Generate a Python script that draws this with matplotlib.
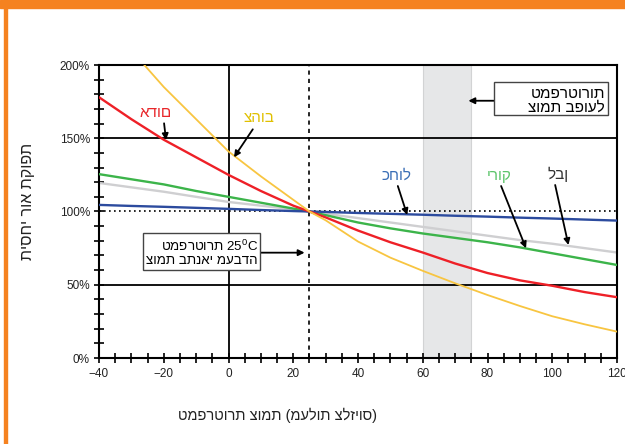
import numpy as np
import matplotlib
matplotlib.use("Agg")
import matplotlib.pyplot as plt
from matplotlib.patches import Rectangle

plt.rcParams['font.family'] = ['Liberation Sans', 'DejaVu Sans']

# Junction temperature (°C) and relative light output (%) per LED colour
temps = [-40, -30, -20, -10, 0, 10, 20, 25, 30, 40, 50, 60, 70, 80, 90, 100, 110, 120]
red = [178, 163, 149, 137, 125, 114, 104, 100, 96, 87, 79, 72, 64.5, 58, 53, 49.3, 45, 41.5]
yellow_t = [-30, -20, -10, 0, 10, 20, 25, 30, 40, 50, 60, 70, 80, 90, 100, 110, 120]
yellow = [210, 185, 163, 141, 124, 108, 100, 94, 79.5, 68.5, 59.5, 51, 43, 35.5, 28.5, 23, 18]
green = [125.5, 122, 118.5, 114, 110, 106, 102, 100, 97.5, 92.5, 88.5, 85, 82, 79, 75.5, 71.5, 67.5, 63.5]
white = [119.5, 116.5, 113.5, 110, 106.5, 104, 101.5, 100, 98.5, 95.5, 92.5, 89.5, 86.5, 83.5, 80.5, 78, 75, 72]
blue = [104.5, 103.8, 103.2, 102.5, 101.8, 101, 100.3, 100, 99.7, 99, 98.4, 97.8, 97.1, 96.5, 95.8, 95.2, 94.5, 93.8]

x_ticks = [-40, -20, 0, 20, 40, 60, 80, 100, 120]
y_ticks = [0, 50, 100, 150, 200]
y_tick_labels = ['0%', '50%', '100%', '150%', '200%']
band = (60, 75)
lab_temp = 25

fig = plt.figure(figsize=(6.25, 4.44), dpi=100)
ax = fig.add_axes([99 / 625, 1 - 358 / 444, 518 / 625, 293 / 444])

# orange page trim
fig.patches.append(Rectangle((0, 1 - 8 / 444), 1, 8 / 444, transform=fig.transFigure,
                             color='#f58220', zorder=0))
fig.patches.append(Rectangle((3.5 / 625, 0), 3 / 625, 1, transform=fig.transFigure,
                             color='#f58220', zorder=0))

ax.axvspan(band[0], band[1], facecolor='#e6e7e8', edgecolor='#d2d3d4', lw=0.8, zorder=0)

ax.axhline(50, color='black', lw=1.3, zorder=1)
ax.axhline(150, color='black', lw=1.3, zorder=1)
ax.axvline(0, color='black', lw=1.3, zorder=1)
ax.axvline(lab_temp, color='black', lw=1.2, ls=(0, (2.5, 2.5)), zorder=1)
ax.axhline(100, color='black', lw=1.2, ls=(0, (1, 2)), zorder=1)

ax.plot(temps, white, color='#cfcfd1', lw=1.7, zorder=2)
ax.plot(temps, green, color='#3cb44a', lw=1.7, zorder=3)
ax.plot(temps, blue, color='#2c4b9e', lw=1.7, zorder=3)
ax.plot(temps, red, color='#ee2027', lw=1.7, zorder=4)
ax.plot(yellow_t, yellow, color='#f8c541', lw=1.3, zorder=4)

ax.set_xlim(-40, 120)
ax.set_ylim(0, 200)
ax.set_xticks(x_ticks)
ax.set_xticks(np.arange(-40, 121, 5), minor=True)
ax.set_yticks(y_ticks)
ax.set_yticklabels(y_tick_labels)
ax.set_yticks(np.arange(0, 201, 10), minor=True)
ax.tick_params(which='both', direction='inout', length=7, width=1.2, color='black',
               labelsize=8.5, labelcolor='#222222')
ax.tick_params(axis='x', pad=4)
ax.tick_params(axis='y', pad=3)
for sp in ax.spines.values():
    sp.set_linewidth(1.5)

arrow = dict(arrowstyle='-|>', color='black', lw=1.3, mutation_scale=9, shrinkA=0, shrinkB=0)

labels = [
    ('אדום', '#e8262a', (-22.4, 167.5), (-19.9, 160.2), (-19.3, 148.8)),
    ('צהוב', '#e0c000', (9.6, 163.5), (7.5, 156.1), (1.7, 137.0)),
    ('כחול', '#3b6fb6', (52.0, 124.2), (52.3, 117.4), (55.2, 97.6)),
    ('ירוק', '#5cc46a', (83.6, 124.2), (84.2, 117.4), (91.9, 74.9)),
    ('לבן', '#333333', (101.9, 125.6), (100.9, 118.1), (105.0, 77.1)),
]
for name, col, pos, start, tip in labels:
    ax.text(*pos, name, color=col, fontsize=11, ha='center', va='center', zorder=6)
    ax.annotate('', xy=tip, xytext=start, arrowprops=arrow, zorder=6)

# callout: actual junction temperatures
ax.add_patch(Rectangle((82.0, 165.7), 35.3, 22.7, facecolor='white', edgecolor='#444444',
                       lw=1.0, zorder=7))
ax.text(116.3, 175.6, 'טמפרטורות\nצומת בפועל', fontsize=11,
        ha='right', va='center', multialignment='right', linespacing=1.0, zorder=8)
ax.annotate('', xy=(74.1, 175.6), xytext=(82.0, 175.6), arrowprops=arrow, zorder=6)

# callout: laboratory junction temperature
ax.add_patch(Rectangle((-26.4, 60.3), 36.2, 25.0, facecolor='white', edgecolor='#444444',
                       lw=1.0, zorder=7))
ax.text(9.1, 71.8, 'טמפרטורת 25$^\\mathregular{0}$C\nצומת בתנאי מעבדה',
        fontsize=9.6, ha='right', va='center', multialignment='right', linespacing=1.05,
        zorder=8)
ax.annotate('', xy=(23.5, 71.9), xytext=(9.8, 71.9), arrowprops=arrow, zorder=6)

fig.text(277 / 625, 1 - 415 / 444, 'טמפרטורת צומת (מעלות צלזיוס)', fontsize=10.5,
         ha='center', va='center', color='#222222')
# vertical label reads top to bottom
fig.text(27.5 / 625, 1 - 201.5 / 444, 'תפוקת אור יחסית'[::-1], fontsize=11.5, rotation=90,
         ha='center', va='center', color='#222222')

fig.savefig('out.png', dpi=100)
